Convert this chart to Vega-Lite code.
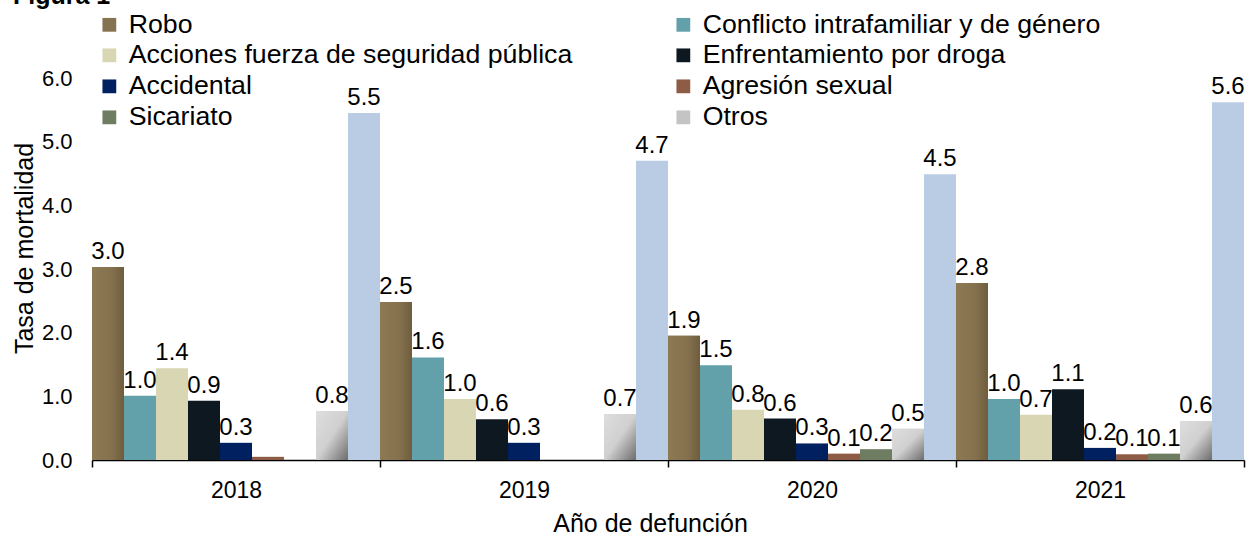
{
  "$schema": "https://vega.github.io/schema/vega-lite/v6.json",
  "width": 1152,
  "height": 382,
  "autosize": {"type": "none"},
  "padding": {"left": 92, "top": 78, "right": 3, "bottom": 75},
  "title": {"text": "Figura 1", "anchor": "start", "frame": "group", "dx": -79, "fontSize": 25, "fontWeight": "bold", "font": "Liberation Sans", "color": "#000000", "offset": 2},
  "config": {"view": {"stroke": null}, "font": "Liberation Sans"},
  "data": {"values": [
    {"anio": "2018", "tipo": "Robo", "v": 3.03, "label": "3.0"},
    {"anio": "2018", "tipo": "Conflicto intrafamiliar y de género", "v": 1.01, "label": "1.0"},
    {"anio": "2018", "tipo": "Acciones fuerza de seguridad pública", "v": 1.44, "label": "1.4"},
    {"anio": "2018", "tipo": "Enfrentamiento por droga", "v": 0.93, "label": "0.9"},
    {"anio": "2018", "tipo": "Accidental", "v": 0.27, "label": "0.3"},
    {"anio": "2018", "tipo": "Agresión sexual", "v": 0.05, "label": ""},
    {"anio": "2018", "tipo": "Sicariato", "v": 0, "label": ""},
    {"anio": "2018", "tipo": "Otros", "v": 0.77, "label": "0.8"},
    {"anio": "2018", "tipo": "Total", "v": 5.45, "label": "5.5"},
    {"anio": "2019", "tipo": "Robo", "v": 2.48, "label": "2.5"},
    {"anio": "2019", "tipo": "Conflicto intrafamiliar y de género", "v": 1.61, "label": "1.6"},
    {"anio": "2019", "tipo": "Acciones fuerza de seguridad pública", "v": 0.96, "label": "1.0"},
    {"anio": "2019", "tipo": "Enfrentamiento por droga", "v": 0.64, "label": "0.6"},
    {"anio": "2019", "tipo": "Accidental", "v": 0.27, "label": "0.3"},
    {"anio": "2019", "tipo": "Agresión sexual", "v": 0, "label": ""},
    {"anio": "2019", "tipo": "Sicariato", "v": 0, "label": ""},
    {"anio": "2019", "tipo": "Otros", "v": 0.72, "label": "0.7"},
    {"anio": "2019", "tipo": "Total", "v": 4.7, "label": "4.7"},
    {"anio": "2020", "tipo": "Robo", "v": 1.95, "label": "1.9"},
    {"anio": "2020", "tipo": "Conflicto intrafamiliar y de género", "v": 1.49, "label": "1.5"},
    {"anio": "2020", "tipo": "Acciones fuerza de seguridad pública", "v": 0.79, "label": "0.8"},
    {"anio": "2020", "tipo": "Enfrentamiento por droga", "v": 0.65, "label": "0.6"},
    {"anio": "2020", "tipo": "Accidental", "v": 0.26, "label": "0.3"},
    {"anio": "2020", "tipo": "Agresión sexual", "v": 0.1, "label": "0.1"},
    {"anio": "2020", "tipo": "Sicariato", "v": 0.17, "label": "0.2"},
    {"anio": "2020", "tipo": "Otros", "v": 0.49, "label": "0.5"},
    {"anio": "2020", "tipo": "Total", "v": 4.49, "label": "4.5"},
    {"anio": "2021", "tipo": "Robo", "v": 2.78, "label": "2.8"},
    {"anio": "2021", "tipo": "Conflicto intrafamiliar y de género", "v": 0.96, "label": "1.0"},
    {"anio": "2021", "tipo": "Acciones fuerza de seguridad pública", "v": 0.71, "label": "0.7"},
    {"anio": "2021", "tipo": "Enfrentamiento por droga", "v": 1.11, "label": "1.1"},
    {"anio": "2021", "tipo": "Accidental", "v": 0.19, "label": "0.2"},
    {"anio": "2021", "tipo": "Agresión sexual", "v": 0.09, "label": "0.1"},
    {"anio": "2021", "tipo": "Sicariato", "v": 0.1, "label": "0.1"},
    {"anio": "2021", "tipo": "Otros", "v": 0.61, "label": "0.6"},
    {"anio": "2021", "tipo": "Total", "v": 5.62, "label": "5.6"}
  ]},
  "encoding": {
    "x": {
      "field": "anio", "type": "nominal",
      "scale": {"paddingInner": 0, "paddingOuter": 0},
      "axis": {
        "title": "Año de defunción", "labelAngle": 0, "tickBand": "extent",
        "tickSize": 7, "tickWidth": 1.5, "tickColor": "#000000",
        "domainColor": "#000000", "domainWidth": 1.5,
        "labelFontSize": 23, "labelColor": "#000000", "labelPadding": 12,
        "titleFontSize": 25, "titleFontWeight": "normal", "titleColor": "#000000",
        "titleBaseline": "alphabetic", "titleY": 71, "titleX": 558, "titleAlign": "center"
      }
    },
    "xOffset": {
      "field": "tipo", "type": "nominal",
      "sort": ["Robo", "Conflicto intrafamiliar y de género", "Acciones fuerza de seguridad pública", "Enfrentamiento por droga", "Accidental", "Agresión sexual", "Sicariato", "Otros", "Total"],
      "scale": {"paddingInner": 0, "paddingOuter": 0}
    },
    "y": {
      "field": "v", "type": "quantitative",
      "scale": {"domain": [0, 6], "nice": false},
      "axis": {
        "title": "Tasa de mortalidad", "values": [0, 1, 2, 3, 4, 5, 6], "format": ".1f",
        "grid": false, "domain": false, "ticks": false,
        "labelFontSize": 22, "labelColor": "#000000", "labelPadding": 20,
        "titleFontSize": 25, "titleFontWeight": "normal", "titleColor": "#000000",
        "titleAngle": -90, "titleBaseline": "alphabetic", "titleX": -60, "titleY": 170, "titleAlign": "center"
      }
    }
  },
  "layer": [
    {
      "mark": {"type": "bar"},
      "encoding": {
        "color": {
          "field": "tipo", "type": "nominal",
          "scale": {
            "domain": ["Robo", "Conflicto intrafamiliar y de género", "Acciones fuerza de seguridad pública", "Enfrentamiento por droga", "Accidental", "Agresión sexual", "Sicariato", "Otros", "Total"],
            "range": ["#857250", "#62A0AA", "#D9D7B3", "#0E1821", "#002060", "#8E5B45", "#6E7C62", "#C4C4C4", "#B9CCE4"]
          },
          "legend": {
            "title": null,
            "values": ["Robo", "Conflicto intrafamiliar y de género", "Acciones fuerza de seguridad pública", "Enfrentamiento por droga", "Accidental", "Agresión sexual", "Sicariato", "Otros"],
            "orient": "none", "direction": "horizontal", "legendX": 4, "legendY": -67, "columns": 2,
            "symbolType": "square", "symbolSize": 190, "symbolStrokeWidth": 0,
            "labelFontSize": 26.7, "labelColor": "#000000", "labelLimit": 700, "labelOffset": 6,
            "rowPadding": 3, "columnPadding": 97, "padding": 0
          }
        }
      }
    },
    {
      "transform": [{"filter": "datum.tipo === 'Robo'"}],
      "mark": {"type": "bar", "color": {"gradient": "linear", "x1": 0, "y1": 0, "x2": 1, "y2": 0, "stops": [{"offset": 0, "color": "#8D7A53"}, {"offset": 0.6, "color": "#85714E"}, {"offset": 1, "color": "#6E5D3E"}]}}
    },
    {
      "transform": [{"filter": "datum.tipo === 'Otros'"}],
      "mark": {"type": "bar", "color": {"gradient": "linear", "x1": 0, "y1": 0, "x2": 1, "y2": 1, "stops": [{"offset": 0, "color": "#DEDEDE"}, {"offset": 0.5, "color": "#D0D0D0"}, {"offset": 1, "color": "#6C6C6C"}]}}
    },
    {
      "transform": [{"filter": "datum.label !== ''"}],
      "mark": {"type": "text", "baseline": "alphabetic", "dy": -8, "fontSize": 24, "color": "#000000"},
      "encoding": {"text": {"field": "label"}}
    }
  ]
}
